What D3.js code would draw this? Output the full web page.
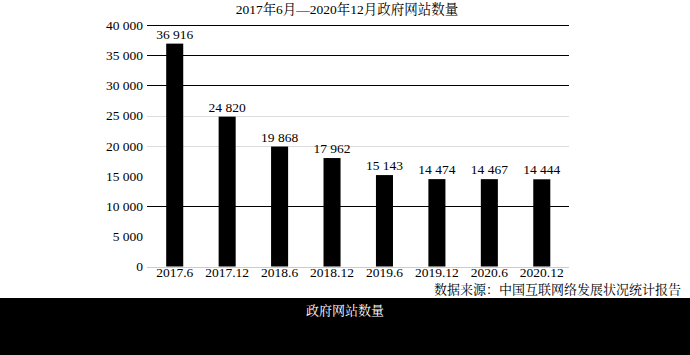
<!DOCTYPE html>
<html><head><meta charset="utf-8">
<script src="https://cdn.jsdelivr.net/npm/d3@7"></script>
<style>html,body{margin:0;padding:0;background:#fff;}svg{display:block;}</style>
</head><body>
<script>
const categories = ["2017.6","2017.12","2018.6","2018.12","2019.6","2019.12","2020.6","2020.12"];
const values = [36916, 24820, 19868, 17962, 15143, 14474, 14467, 14444];
const yTicks = [0, 5000, 10000, 15000, 20000, 25000, 30000, 35000, 40000];
const title = "2017年6月—2020年12月政府网站数量";
const source = "数据来源：中国互联网络发展状况统计报告";
const footer = "政府网站数量";

const W = 690, H = 355;
const font = "'Liberation Serif','Noto Serif CJK SC','Noto Sans CJK SC',serif";
const svg = d3.select("body").append("svg").attr("width", W).attr("height", H);
svg.append("rect").attr("width", W).attr("height", H).attr("fill", "#fff");

const x = d3.scaleBand().domain(categories).range([148.5, 568]).paddingInner(0.675).paddingOuter(0.3375);
const y = d3.scaleLinear().domain([0, 40000]).range([266.5, 25]);
const fmt = v => d3.format(",")(v).replace(/,/g, " ");

// gridline styling (as in reference: some dark, some faint)
const gridColor = v => ({40000:"#000",35000:"#000",30000:"#000",10000:"#000",25000:"#ddd",20000:"#ddd",0:"#ccc"})[v] || "none";

svg.append("g").selectAll("line").data(yTicks).join("line")
  .attr("x1", 147).attr("x2", 569)
  .attr("y1", d => Math.round(y(d)) + 0.5).attr("y2", d => Math.round(y(d)) + 0.5)
  .attr("stroke", d => gridColor(d)).attr("stroke-width", 1);

const yAxis = svg.append("g").attr("transform", "translate(147,0)")
  .call(d3.axisLeft(y).tickValues(yTicks).tickFormat(fmt).tickSize(0).tickPadding(4));
yAxis.select(".domain").remove();
yAxis.selectAll("text").attr("font-family", font).attr("font-size", 13.5).attr("fill", "#000");

const xAxis = svg.append("g").attr("transform", "translate(0,266.5)")
  .call(d3.axisBottom(x).tickSize(0).tickPadding(1));
xAxis.select(".domain").remove();
xAxis.selectAll("text").attr("font-family", font).attr("font-size", 13.5).attr("fill", "#000");

svg.append("g").selectAll("rect").data(values).join("rect")
  .attr("x", (d, i) => x(categories[i]))
  .attr("width", x.bandwidth())
  .attr("y", d => y(d))
  .attr("height", d => y(0) - y(d))
  .attr("fill", "#000");

svg.append("g").selectAll("text").data(values).join("text")
  .attr("x", (d, i) => x(categories[i]) + x.bandwidth() / 2)
  .attr("y", d => y(d) - 5)
  .attr("text-anchor", "middle")
  .attr("font-family", font).attr("font-size", 13.5).attr("fill", "#000")
  .text(fmt);

svg.append("text").attr("x", 347).attr("y", 14).attr("text-anchor", "middle")
  .attr("font-family", font).attr("font-size", 13.5).attr("fill", "#000").text(title);

svg.append("text").attr("x", 681).attr("y", 294).attr("text-anchor", "end")
  .attr("font-family", font).attr("font-size", 13).attr("fill", "#000").text(source);

svg.append("rect").attr("x", 0).attr("y", 298).attr("width", W).attr("height", H - 298).attr("fill", "#000");
svg.append("text").attr("x", 345).attr("y", 315).attr("text-anchor", "middle")
  .attr("font-family", font).attr("font-size", 13).attr("fill", "#fff").text(footer);
</script>
</body></html>
